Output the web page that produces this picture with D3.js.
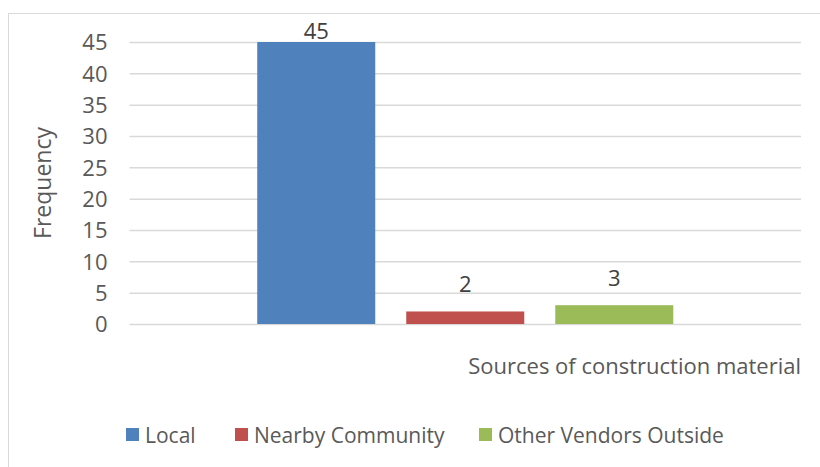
<!DOCTYPE html>
<html>
<head>
<meta charset="utf-8">
<script src="https://cdn.jsdelivr.net/npm/d3@7"></script>
<style>
  html, body { margin: 0; padding: 0; background: #fff; }
  svg { display: block; font-family: "Open Sans", "Noto Sans", sans-serif; }
</style>
</head>
<body>
<svg id="chart" width="820" height="467"></svg>
<script>
const categories = ["Sources of construction material"];
const seriesNames = ["Local", "Nearby Community", "Other Vendors Outside"];
const seriesValues = [45, 2, 3];
const seriesColors = ["#4F81BD", "#C0504D", "#9BBB59"];
const yTicks = [0, 5, 10, 15, 20, 25, 30, 35, 40, 45];
const yTitle = "Frequency";

const svg = d3.select("#chart");
const W = 820, H = 467;
const plot = { left: 129.5, right: 801, top: 42, bottom: 324 };

// outer frame (extends past the right/bottom edge)
svg.append("rect")
  .attr("x", 8.5).attr("y", 13.5)
  .attr("width", W + 10).attr("height", H + 10)
  .attr("fill", "#fff").attr("stroke", "#d9d9d9").attr("stroke-width", 1);

const y = d3.scaleLinear().domain([0, 45]).range([plot.bottom, plot.top]);
const x0 = d3.scaleBand().domain(categories).range([plot.left, plot.right])
  .paddingInner(0).paddingOuter(0.307);
const x1 = d3.scaleBand().domain(seriesNames).range([0, x0.bandwidth()])
  .paddingInner(0.208).paddingOuter(0);

// gridlines
const yAxis = d3.axisLeft(y).tickValues(yTicks).tickSize(-(plot.right - plot.left)).tickPadding(22);
const gAxis = svg.append("g").attr("transform", `translate(${plot.left},0)`).call(yAxis);
gAxis.select(".domain").remove();
gAxis.selectAll(".tick line").attr("stroke", "#d9d9d9").attr("stroke-width", 1.5);
gAxis.selectAll(".tick text")
  .attr("fill", "#595959").attr("font-size", "22px")
  .attr("font-family", "'Open Sans', sans-serif")
  .attr("dy", "0.36em");

// bars
const data = seriesNames.map((s, i) => ({ name: s, value: seriesValues[i], color: seriesColors[i] }));
const g = svg.append("g").attr("transform", `translate(${x0(categories[0])},0)`);
g.selectAll("rect.bar").data(data).join("rect")
  .attr("class", "bar")
  .attr("x", d => x1(d.name))
  .attr("y", d => y(d.value))
  .attr("width", x1.bandwidth())
  .attr("height", d => y(0) - y(d.value))
  .attr("fill", d => d.color);

// data labels
g.selectAll("text.lbl").data(data).join("text")
  .attr("class", "lbl")
  .attr("x", d => x1(d.name) + x1.bandwidth() / 2)
  .attr("y", d => Math.max(y(d.value) - 19, plot.top - 3))
  .attr("text-anchor", "middle")
  .attr("fill", "#404040").attr("font-size", "22px")
  .text(d => d.value);

// x-axis title
svg.append("text")
  .attr("x", plot.right).attr("y", 374)
  .attr("text-anchor", "end")
  .attr("fill", "#595959").attr("font-size", "22px")
  .text(categories[0]);

// y-axis title
svg.append("text")
  .attr("transform", `translate(51,${(plot.top + plot.bottom) / 2}) rotate(-90)`)
  .attr("text-anchor", "middle")
  .attr("fill", "#595959").attr("font-size", "23px")
  .text(yTitle);

// legend
const legendX = [126, 235, 479];
const lg = svg.append("g");
const items = lg.selectAll("g").data(data).join("g")
  .attr("transform", (d, i) => `translate(${legendX[i]},428)`);
items.append("rect").attr("width", 13).attr("height", 13).attr("fill", d => d.color);
items.append("text").attr("x", 19).attr("y", 14.5)
  .attr("fill", "#595959").attr("font-size", "21px")
  .text(d => d.name);
</script>
</body>
</html>
